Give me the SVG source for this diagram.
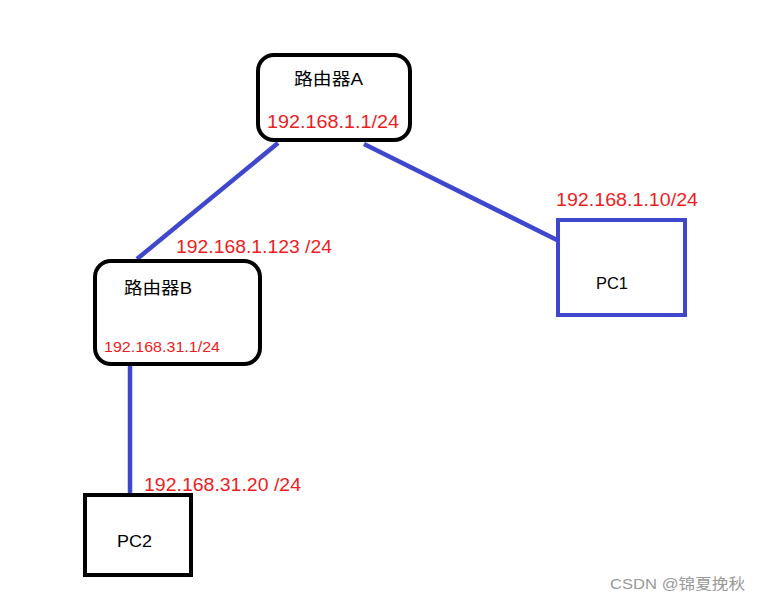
<svg xmlns="http://www.w3.org/2000/svg" width="761" height="604" viewBox="0 0 761 604">
<style>
.box{fill:#fff;stroke:#000;stroke-width:4}
.pc{fill:#fff;stroke:#3f48cc;stroke-width:4}
.link{stroke:#3f48cc;stroke-width:4.5;fill:none}
.lbl{font-family:"Liberation Sans","Noto Sans CJK SC",sans-serif;font-size:17px;fill:#000}
.ip{font-family:"Liberation Sans","Noto Sans CJK SC",sans-serif;font-size:18px;fill:#ee1c24}
.ips{font-family:"Liberation Sans",sans-serif;font-size:14px;fill:#ee1c24}
.wm{font-family:"Liberation Sans","Noto Sans CJK SC",sans-serif;font-size:15px;fill:#999}
</style>
<rect width="761" height="604" fill="#fff"/>
<g id="connectors">
<line class="link" x1="278" y1="143" x2="137" y2="259"/>
<line class="link" x1="364" y1="144" x2="557" y2="240"/>
<line class="link" x1="130" y1="366" x2="130" y2="494"/>
</g>
<g id="routerA">
<rect class="box" x="258" y="55" width="152" height="85" rx="16"/>
<text class="lbl" x="294" y="85" textLength="69" lengthAdjust="spacingAndGlyphs">路由器A</text>
<text class="ip" x="267" y="128" textLength="132" lengthAdjust="spacingAndGlyphs">192.168.1.1/24</text>
</g>
<g id="routerB">
<rect class="box" x="95" y="261" width="165" height="103" rx="16"/>
<text class="lbl" x="124" y="294" textLength="68" lengthAdjust="spacingAndGlyphs">路由器B</text>
<text class="ips" x="104" y="352" textLength="116" lengthAdjust="spacingAndGlyphs">192.168.31.1/24</text>
<text class="ip" x="176" y="253" textLength="156" lengthAdjust="spacingAndGlyphs">192.168.1.123 /24</text>
</g>
<g id="pc1">
<rect class="pc" x="558" y="220" width="127" height="95"/>
<text class="lbl" x="596" y="289" textLength="32" lengthAdjust="spacingAndGlyphs">PC1</text>
<text class="ip" x="556" y="206" textLength="142" lengthAdjust="spacingAndGlyphs">192.168.1.10/24</text>
</g>
<g id="pc2">
<rect class="box" x="85" y="495" width="106" height="80"/>
<text class="lbl" x="117" y="547" textLength="35" lengthAdjust="spacingAndGlyphs">PC2</text>
<text class="ip" x="144" y="491" textLength="157" lengthAdjust="spacingAndGlyphs">192.168.31.20 /24</text>
</g>
<text class="wm" x="610" y="589" textLength="135" lengthAdjust="spacingAndGlyphs">CSDN @锦夏挽秋</text>
</svg>
